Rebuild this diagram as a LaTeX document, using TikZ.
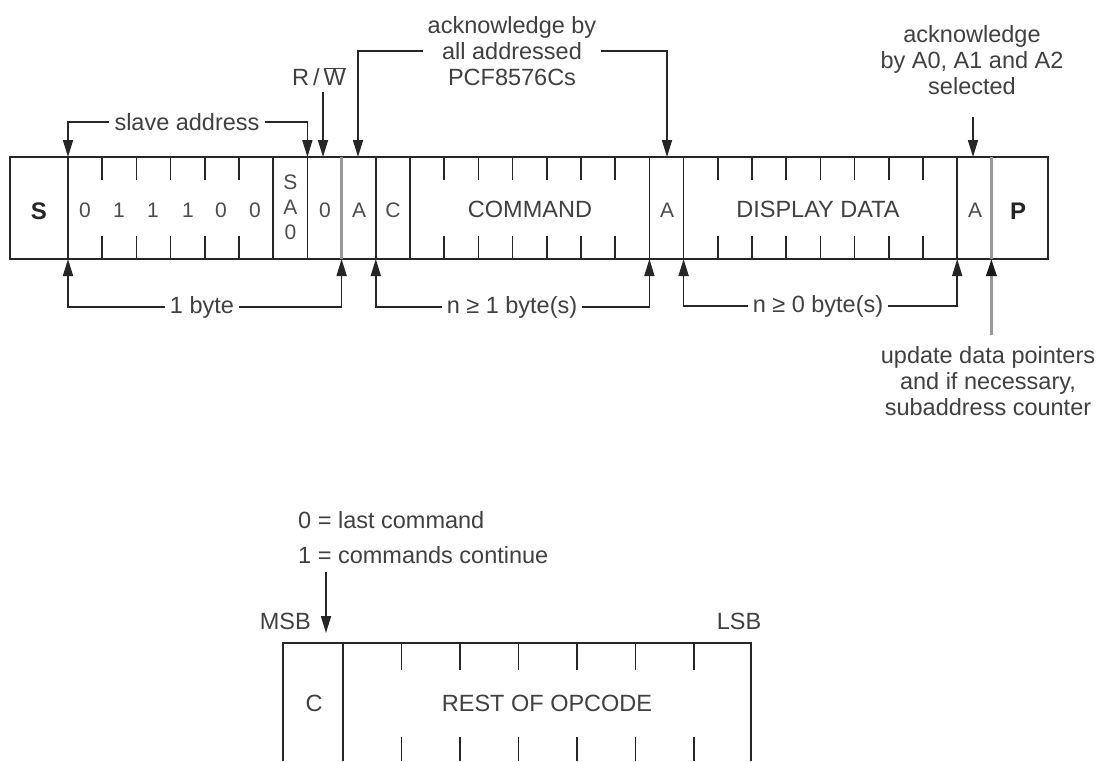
\documentclass[tikz,border=0pt]{standalone}
\usepackage{fontspec}
\setmainfont{Liberation Sans}
\usetikzlibrary{arrows.meta}
\tikzset{
  frame/.style={line width=1.6pt, draw=black!85},
  sep/.style={line width=1.6pt, draw=black!85},
  gsep/.style={line width=3.2pt, draw=black!40},
  tick/.style={line width=1.6pt, draw=black!85},
  arr/.style={line width=1.6pt, draw=black!85, -{Triangle[width=10pt,length=17pt]}},
  garr/.style={line width=3.2pt, draw=black!40, -{Triangle[width=10pt,length=17pt,color=black!90]}},
  lbl/.style={font=\fontsize{23.5}{26}\selectfont, text=black!75, inner sep=5pt},
  blbl/.style={font=\fontsize{24}{26}\selectfont\bfseries, text=black!85, inner sep=0pt},
  bit/.style={font=\fontsize{21}{24}\selectfont, text=black!70, inner sep=0pt},
}
\begin{document}
\begin{tikzpicture}[x=1pt,y=-1pt]
\useasboundingbox (0,0) rectangle (1106,761);
\fill[white] (0,0) rectangle (1106,761);
% ---------- top frame ----------
\def\w{34.2}
\draw[frame] (10,157) rectangle (1048,259);
% separators
\foreach \k in {0,6,7,9,10,17,18,26}{
  \draw[sep] ({68+\k*\w},157) -- ({68+\k*\w},259);
}
\draw[gsep] ({68+8*\w},157) -- ({68+8*\w},259);
\draw[gsep] ({68+27*\w},157) -- ({68+27*\w},259);
% ticks
\foreach \k in {1,2,3,4,5,11,12,13,14,15,16,19,20,21,22,23,24,25}{
  \draw[tick] ({68+\k*\w},157) -- ({68+\k*\w},180);
  \draw[tick] ({68+\k*\w},236) -- ({68+\k*\w},259);
}
% field texts
\node[blbl] (S) at (39,211) {S};
\node[bit] (b0) at (85,210) {0};
\node[bit] (b1) at (119,210) {1};
\node[bit] (b2) at (153,210) {1};
\node[bit] (b3) at (188,210) {1};
\node[bit] (b4) at (221,210) {0};
\node[bit] (b5) at (255,210) {0};
\node[bit, align=center, font=\fontsize{21}{25}\selectfont] (sa0) at (290.5,207) {S\\A\\0};
\node[bit] (rwbit) at (325,210) {0};
\node[bit] (ackA) at (359,210) {A};
\node[bit] (cbit) at (393,210) {C};
\node[lbl, inner sep=0pt] (cmd) at (530,209) {COMMAND};
\node[bit] (ackB) at (667,210) {A};
\node[lbl, inner sep=0pt] (dd) at (818,209) {DISPLAY DATA};
\node[bit] (ackC) at (975,210) {A};
\node[blbl] (P) at (1018,211) {P};
% ---------- top annotations ----------
\coordinate (t68) at (68,157);
\coordinate (t307) at (307.4,157);
\coordinate (t323) at (323,157);
\coordinate (t358) at (358,157);
\coordinate (t667) at (667,157);
\coordinate (t973) at (973,157);
\node[lbl] (slave) at (187,122) {slave address};
\draw[arr] (slave.west) -| (t68);
\draw[arr] (slave.east) -| (t307);
\node[lbl, inner sep=0pt] (rw) at (319,77) {R\,/\,$\overline{\hbox{W}}$};
\coordinate (rwtop) at (323,92);
\draw[arr] (rwtop) -- (t323);
\node[lbl, align=center] (ack1) at (512,51) {acknowledge by\\all addressed\\PCF8576Cs};
\draw[arr] (ack1.west) -| (t358);
\draw[arr] (ack1.east) -| (t667);
\node[lbl, align=center] (ack2) at (972,60) {acknowledge\\by A0, A1 and A2\\selected};
\coordinate (ack2top) at (973,117);
\draw[arr] (ack2top) -- (t973);
% ---------- bottom annotations ----------
\coordinate (u68) at (68,259);
\coordinate (u342) at (341.6,259);
\coordinate (u376) at (375.8,259);
\coordinate (u651) at (649.4,259);
\coordinate (u684) at (683.6,259);
\coordinate (u957) at (957.2,259);
\coordinate (u992) at (991.4,259);
\node[lbl] (byte1) at (202,307) {1 byte};
\draw[arr] (byte1.west) -| (u68);
\draw[arr] (byte1.east) -| (u342);
\node[lbl] (n1) at (512,307) {n ≥ 1 byte(s)};
\draw[arr] (n1.west) -| (u376);
\draw[arr] (n1.east) -| (u651);
\node[lbl] (n0) at (818,306) {n ≥ 0 byte(s)};
\draw[arr] (n0.west) -| (u684);
\draw[arr] (n0.east) -| (u957);
\node[lbl, align=center] (upd) at (988,381) {update data pointers\\and if necessary,\\subaddress counter};
\coordinate (updtop) at (991.4,335);
\draw[garr] (updtop) -- (u992);
% ---------- lower figure ----------
\def\v{58.5}
\draw[frame] (283,761) -- (283,643) -- (751,643) -- (751,761);
\draw[sep] (343,643) -- (343,761);
\foreach \k in {1,...,6}{
  \draw[tick] ({343+\k*\v},643) -- ({343+\k*\v},670);
  \draw[tick] ({343+\k*\v},737) -- ({343+\k*\v},761);
}
\node[lbl, inner sep=0pt] (cfield) at (314,703) {C};
\node[lbl, inner sep=0pt] (rest) at (547,703) {REST OF OPCODE};
\node[lbl, inner sep=0pt, anchor=east] (msb) at (311,621) {MSB};
\node[lbl, inner sep=0pt] (lsb) at (739,621) {LSB};
\node[lbl, inner sep=0pt, align=left, anchor=west, font=\fontsize{23.5}{35}\selectfont] (cmdnote) at (298,538) {0 = last command\\1 = commands continue};
\coordinate (msbtop) at (326,572);
\coordinate (msbtip) at (326,633);
\draw[arr] (msbtop) -- (msbtip);
\end{tikzpicture}
\end{document}
